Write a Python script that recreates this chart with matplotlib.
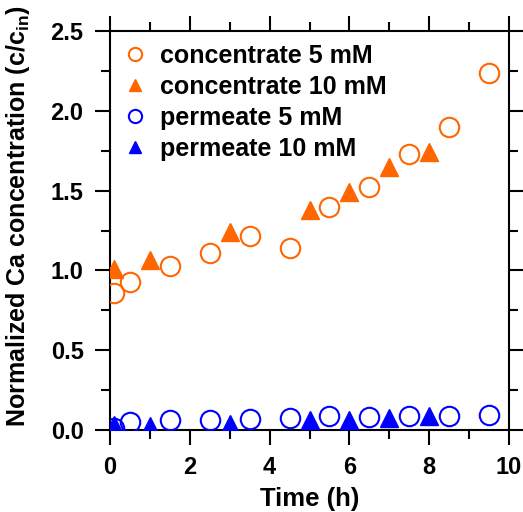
import numpy as np
import matplotlib
matplotlib.use("Agg")
import matplotlib.pyplot as plt
from matplotlib.ticker import MultipleLocator

plt.rcParams['font.family'] = ['Liberation Sans', 'DejaVu Sans']
plt.rcParams['font.weight'] = 'bold'
plt.rcParams['mathtext.fontset'] = 'custom'
plt.rcParams['mathtext.rm'] = 'Liberation Sans:bold'
plt.rcParams['mathtext.bf'] = 'Liberation Sans:bold'

# data
t5 = [0.1, 0.5, 1.5, 2.5, 3.5, 4.5, 5.5, 6.5, 7.5, 8.5, 9.5]
conc5 = [0.86, 0.93, 1.03, 1.11, 1.215, 1.14, 1.40, 1.52, 1.73, 1.90, 2.235]
perm5 = [0.015, 0.05, 0.065, 0.065, 0.07, 0.075, 0.085, 0.08, 0.085, 0.09, 0.095]

t10 = [0.1, 1.0, 3.0, 5.0, 6.0, 7.0, 8.0]
conc10 = [1.01, 1.065, 1.24, 1.38, 1.49, 1.65, 1.74]
perm10 = [0.03, 0.025, 0.035, 0.06, 0.06, 0.075, 0.085]

orange = '#FF6600'
blue = '#0000FF'

fig = plt.figure(figsize=(5.23, 5.12), dpi=100)
ax = fig.add_axes([0.2103, 0.1602, 0.763, 0.779])

ax.plot(t5, conc5, 'o', ms=14, mfc='none', mec=orange, mew=1.5, label='concentrate 5 mM')
ax.plot(t10, conc10, '^', ms=13, color=orange, mec=orange, label='concentrate 10 mM')
ax.plot(t5, perm5, 'o', ms=14, mfc='none', mec=blue, mew=1.5, label='permeate 5 mM')
ax.plot(t10, perm10, '^', ms=13, color=blue, mec=blue, label='permeate 10 mM')

ax.set_xlim(0, 10)
ax.set_ylim(0, 2.5)
ax.xaxis.set_major_locator(MultipleLocator(2))
ax.xaxis.set_minor_locator(MultipleLocator(1))
ax.yaxis.set_major_locator(MultipleLocator(0.5))
ax.yaxis.set_minor_locator(MultipleLocator(0.25))
ax.set_yticks(np.arange(0, 2.51, 0.5))
ax.set_yticklabels(['%.1f' % v for v in np.arange(0, 2.51, 0.5)])

ax.tick_params(which='both', direction='out', top=True, right=True, width=1.5, labelsize=17)
ax.tick_params(which='major', length=11, pad=8)
ax.tick_params(which='minor', length=6.5)
for s in ax.spines.values():
    s.set_linewidth(1.5)
    s.set_zorder(0)

ax.set_xlabel('Time (h)', fontsize=18.5, fontweight='bold')
ax.set_ylabel('Normalized Ca concentration (c/c$_\\mathbf{in}$)', fontsize=18, fontweight='bold')
ax.xaxis.set_label_coords(0.5, -0.143)
ax.yaxis.set_label_coords(-0.195, 0.535)

ax.legend(loc='upper left', frameon=False, fontsize=18, markerscale=0.68,
          handlelength=1.0, handletextpad=0.5, labelspacing=0.28,
          borderaxespad=0.2, borderpad=0.3)

fig.savefig('out.png', dpi=100)
